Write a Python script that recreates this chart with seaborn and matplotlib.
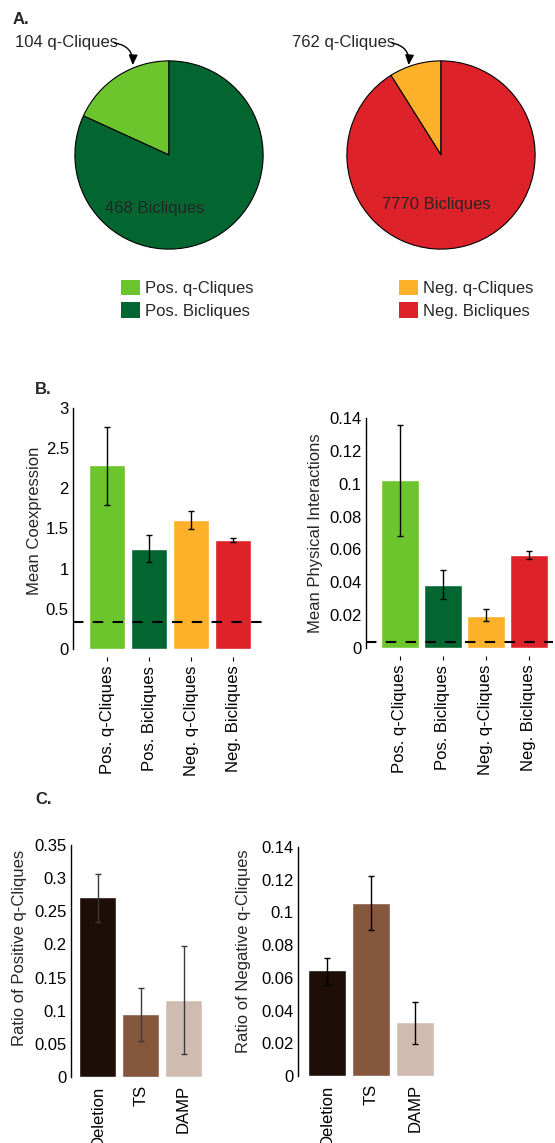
import matplotlib
matplotlib.use("Agg")
import matplotlib.pyplot as plt
import seaborn as sns
import numpy as np

# ---- data ----
pos_pie_labels = ["Pos. q-Cliques", "Pos. Bicliques"]
pos_pie_counts = [104, 468]
neg_pie_labels = ["Neg. q-Cliques", "Neg. Bicliques"]
neg_pie_counts = [762, 7770]

group_cats = ["Pos. q-Cliques", "Pos. Bicliques", "Neg. q-Cliques", "Neg. Bicliques"]
coexp_mean = [2.29, 1.245, 1.605, 1.357]
coexp_lo = [1.795, 1.088, 1.498, 1.332]
coexp_hi = [2.764, 1.419, 1.717, 1.386]
coexp_baseline = 0.335

phys_mean = [0.1025, 0.0383, 0.0197, 0.0568]
phys_lo = [0.0684, 0.0296, 0.0164, 0.0544]
phys_hi = [0.136, 0.0475, 0.0235, 0.0592]
phys_baseline = 0.0035

mut_cats = ["Deletion", "TS", "DAMP"]
pos_ratio = [0.2715, 0.0947, 0.1158]
pos_ratio_lo = [0.2332, 0.0549, 0.0347]
pos_ratio_hi = [0.3057, 0.134, 0.198]
neg_ratio = [0.0646, 0.106, 0.0328]
neg_ratio_lo = [0.0558, 0.0895, 0.0196]
neg_ratio_hi = [0.0723, 0.1223, 0.0454]

green_cols = ["#6cc52c", "#036631"]
red_cols = ["#fdb02a", "#de222a"]
brown_cols = ["#1d0e07", "#85573c", "#d0bbb1"]

sns.set_theme(style="white")
plt.rcParams['font.family'] = ['Liberation Sans', 'DejaVu Sans']
FS = 12

W, H = 555, 1143
fig = plt.figure(figsize=(W / 100, H / 100), dpi=100)


def fr(x0, y_top, x1, y_bot):
    # pixel box -> figure fraction rect
    return [x0 / W, 1 - y_bot / H, (x1 - x0) / W, (y_bot - y_top) / H]


def pie_panel(rect, counts, cols, inner_txt, outer_txt, inner_xy, txt_x):
    ax = fig.add_axes(rect)
    ax.pie(counts, colors=cols, startangle=90, counterclock=True,
           wedgeprops=dict(edgecolor="black", linewidth=0.8))
    ax.set_xlim(-1.02, 1.02)
    ax.set_ylim(-1.02, 1.02)
    ax.text(inner_xy[0], inner_xy[1], inner_txt, ha="center", va="center", fontsize=FS)
    ax.text(txt_x, 1.2, outer_txt, ha="left", va="center", fontsize=FS, clip_on=False)
    return ax


arrow_style = dict(arrowstyle="-|>,head_length=0.5,head_width=0.22", color="black",
                   lw=1.0, connectionstyle="arc3,rad=-0.45", shrinkA=0, shrinkB=0)

axA1 = pie_panel(fr(73, 59, 265, 251), pos_pie_counts, green_cols,
                 "468 Bicliques", "104 q-Cliques", (-0.15, -0.57), -1.635)
axA1.annotate("", xy=(-0.385, 0.955), xytext=(-0.58, 1.19), annotation_clip=False,
              arrowprops=arrow_style)
axA2 = pie_panel(fr(345, 59, 537, 251), neg_pie_counts, red_cols,
                 "7770 Bicliques", "762 q-Cliques", (-0.05, -0.53), -1.583)
axA2.annotate("", xy=(-0.344, 0.955), xytext=(-0.52, 1.19), annotation_clip=False,
              arrowprops=arrow_style)

for ax, labels, cols, x0 in [(axA1, pos_pie_labels, green_cols, 121),
                             (axA2, neg_pie_labels, red_cols, 399)]:
    handles = [plt.Rectangle((0, 0), 1, 1, facecolor=c, edgecolor="none") for c in cols]
    ax.legend(handles, labels, loc="upper left", bbox_to_anchor=(x0 / W, 1 - 280 / H),
              bbox_transform=fig.transFigure, frameon=False, fontsize=FS,
              handlelength=1.14, handleheight=1.05, handletextpad=0.3,
              labelspacing=0.35, borderpad=0, borderaxespad=0)


def bar_panel(rect, cats, vals, lo, hi, cols, xlim, ylim, yticks, ylabel, label_x, label_y,
              width, ecolor="black", baseline=None, tick_offset=6, tick_pad=3, tick_len=3):
    ax = fig.add_axes(rect)
    sns.barplot(x=cats, y=vals, hue=cats, palette=cols, legend=False, errorbar=None,
                width=width, saturation=1, ax=ax)
    xs = np.arange(len(cats))
    v = np.array(vals)
    yerr = np.vstack([v - np.array(lo), np.array(hi) - v])
    ax.errorbar(xs, v, yerr=yerr, fmt="none", ecolor=ecolor, elinewidth=1.0,
                capsize=2, capthick=1.0)
    if baseline is not None:
        ax.axhline(baseline, color="black", lw=1.5, ls=(0, (5, 4.5)), clip_on=False)
    for s in ["top", "right", "bottom"]:
        ax.spines[s].set_visible(False)
    ax.spines["bottom"].set_position(("outward", tick_offset))
    ax.spines["left"].set_color("black")
    ax.spines["left"].set_linewidth(1.0)
    ax.set_xlim(*xlim)
    ax.set_ylim(*ylim)
    ax.set_yticks(yticks)
    ax.set_yticklabels(["{:g}".format(t) for t in yticks])
    ax.set_xticks(xs)
    ax.set_xticklabels(cats)
    ax.tick_params(axis="y", length=0, pad=3, colors="black", labelsize=FS)
    ax.tick_params(axis="x", length=tick_len, width=0.8, direction="out", pad=tick_pad,
                   colors="black", bottom=True, labelsize=FS, labelrotation=90)
    ax.set_xlabel("")
    ax.set_ylabel(ylabel, fontsize=FS)
    ax.yaxis.set_label_coords(label_x, label_y)
    return ax


bar_panel(fr(73, 408, 262, 649), group_cats, coexp_mean, coexp_lo, coexp_hi,
          green_cols + red_cols, (-0.81, 3.69), (0, 3), [0, 0.5, 1, 1.5, 2, 2.5, 3],
          "Mean Coexpression", -0.164, 0.53, 0.857, baseline=coexp_baseline)
bar_panel(fr(366, 418, 553, 648), group_cats, phys_mean, phys_lo, phys_hi,
          green_cols + red_cols, (-0.79, 3.56), (0, 0.14),
          [0, 0.02, 0.04, 0.06, 0.08, 0.1, 0.12, 0.14],
          "Mean Physical Interactions", -0.23, 0.5, 0.88, baseline=phys_baseline)
bar_panel(fr(71, 845, 215, 1077), mut_cats, pos_ratio, pos_ratio_lo, pos_ratio_hi,
          brown_cols, (-0.62, 2.73), (0, 0.35),
          [0, 0.05, 0.1, 0.15, 0.2, 0.25, 0.3, 0.35],
          "Ratio of Positive q-Cliques", -0.306, 0.558, 0.86, ecolor="#3a3a3a",
          tick_offset=2, tick_pad=4, tick_len=0)
bar_panel(fr(298, 847, 445, 1076), mut_cats, neg_ratio, neg_ratio_lo, neg_ratio_hi,
          brown_cols, (-0.66, 2.68), (0, 0.14),
          [0, 0.02, 0.04, 0.06, 0.08, 0.1, 0.12, 0.14],
          "Ratio of Negative q-Cliques", -0.32, 0.546, 0.86,
          tick_offset=2, tick_pad=4, tick_len=0)

fig.text(13 / W, 1 - 20 / H, "A.", fontsize=FS, fontweight="bold", va="center", ha="left")
fig.text(35 / W, 1 - 390 / H, "B.", fontsize=FS, fontweight="bold", va="center", ha="left")
fig.text(35 / W, 1 - 800 / H, "C.", fontsize=FS, fontweight="bold", va="center", ha="left")

fig.savefig("out.png", dpi=100)
